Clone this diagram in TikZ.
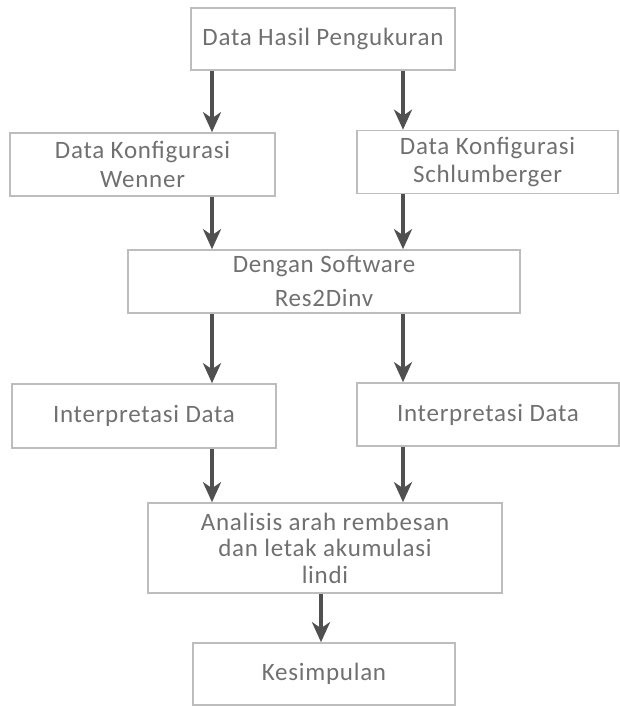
\documentclass[tikz,border=0pt]{standalone}
\usepackage{fontspec}
\setmainfont[LetterSpace=3]{Carlito}
\usetikzlibrary{arrows.meta}
\definecolor{boxgray}{HTML}{BDBDBD}
\definecolor{txtgray}{HTML}{707070}
\definecolor{arrgray}{HTML}{505050}
\begin{document}
\begin{tikzpicture}[x=1pt,y=1pt,
  box/.style={draw=boxgray, line width=1.6pt, inner sep=0pt, align=center,
    text=txtgray, font=\fontsize{25}{29}\selectfont},
  arr/.style={draw=arrgray, line width=4pt,
    -{Stealth[length=20pt,width=18pt,inset=6pt]}}]
\useasboundingbox (0,0) rectangle (619,706);
\node[box, minimum width=264pt, minimum height=62pt] (b1) at (323,667) {Data Hasil Pengukuran};
\node[box, minimum width=265pt, minimum height=63pt] (wen) at (142.5,541.5) {Data Konfigurasi\\Wenner};
\node[box, minimum width=261pt, minimum height=63pt, font=\fontsize{25}{28}\selectfont] (sch) at (487.5,544) {Data Konfigurasi\\Schlumberger};
\node[box, minimum width=392pt, minimum height=63pt, font=\fontsize{25}{34}\selectfont] (sw) at (324,424.5) {Dengan Software\\Res2Dinv};
\node[box, minimum width=264pt, minimum height=64pt] (intL) at (144,290) {Interpretasi Data};
\node[box, minimum width=262pt, minimum height=63pt] (intR) at (488,291.5) {\raisebox{4pt}{Interpretasi Data}};
\node[box, minimum width=354pt, minimum height=90pt, font=\fontsize{25}{26.5}\selectfont] (ana) at (325,158) {Analisis arah rembesan\\dan letak akumulasi\\lindi};
\node[box, minimum width=262pt, minimum height=62pt] (kes) at (324,32) {Kesimpulan};
\coordinate (cL) at (212,0);
\coordinate (cR) at (403,0);
\coordinate (cM) at (321,0);
\draw[arr] (b1.south -| cL) -- (wen.north -| cL);
\draw[arr] (b1.south -| cR) -- (sch.north -| cR);
\draw[arr] (wen.south -| cL) -- (sw.north -| cL);
\draw[arr] (sch.south -| cR) -- (sw.north -| cR);
\draw[arr] (sw.south -| cL) -- (intL.north -| cL);
\draw[arr] (sw.south -| cR) -- (intR.north -| cR);
\draw[arr] (intL.south -| cL) -- (ana.north -| cL);
\draw[arr] (intR.south -| cR) -- (ana.north -| cR);
\draw[arr] (ana.south -| cM) -- (kes.north -| cM);
\end{tikzpicture}
\end{document}
